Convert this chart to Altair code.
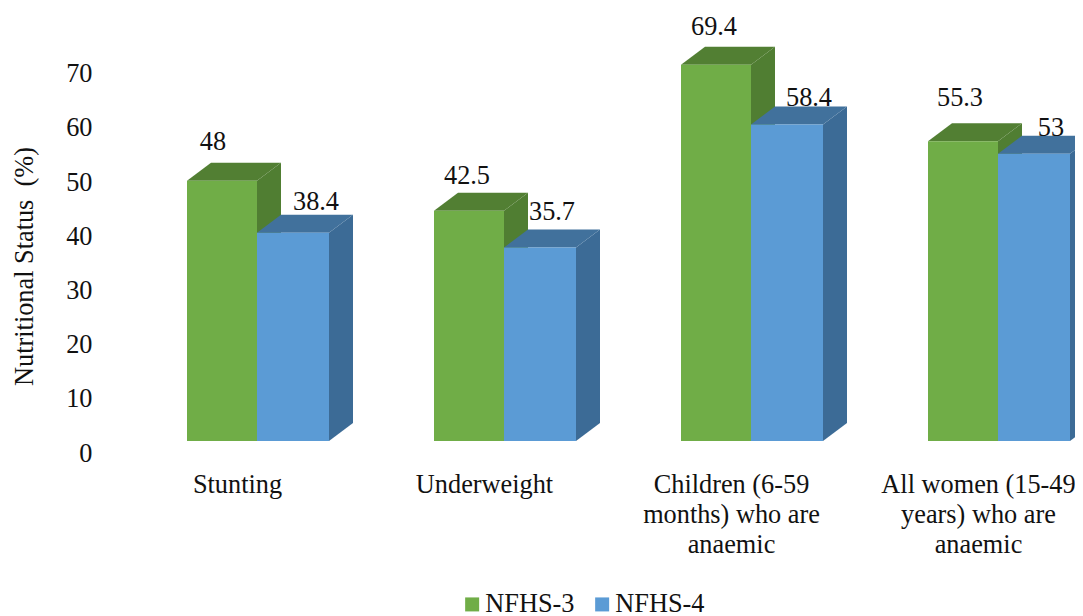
import json
import altair as alt
import pandas as pd

# ---- values
categories = ["Stunting", "Underweight", "Children (6-59 months) who are anaemic", "All women (15-49 years) who are anaemic"]
category_lines = [["Stunting"], ["Underweight"], ["Children (6-59", "months) who are", "anaemic"], ["All women (15-49", "years) who are", "anaemic"]]
nfhs3 = [48, 42.5, 69.4, 55.3]
nfhs4 = [38.4, 35.7, 58.4, 53]
series_names = ["NFHS-3", "NFHS-4"]
front_colors = ["#70AD47", "#5B9BD5"]
side_colors = ["#507E32", "#3C6B96"]
top_colors = ["#527F33", "#41719C"]
y_ticks = [0, 10, 20, 30, 40, 50, 60, 70]

# ---- layout of the pseudo-3D drawing
PX_X = 247.0      # pixels per category
PX_Y = 5.42       # pixels per percentage point
W3, W4 = 70 / PX_X, 72 / PX_X
DX, DY = 24 / PX_X, 18 / PX_Y
FONT = "Liberation Serif"
FS = 26.3
xdom = [(100 - 187) / PX_X, (1075 - 187) / PX_X]
ydom = [0, 433 / PX_Y]
xs = alt.Scale(domain=xdom, nice=False, zero=False)
ys = alt.Scale(domain=ydom, nice=False, zero=False)

label_off = {"NFHS-3": [(26, 39), (33, 35), (33, 38), (32, 43)],
             "NFHS-4": [(59, 31), (48, 36), (58, 26), (53, 26)]}

fronts, sides, tops, labels = [], [], [], []
for si, (name, vals) in enumerate(zip(series_names, [nfhs3, nfhs4])):
    for i, v in enumerate(vals):
        left = i + (0 if si == 0 else W3)
        right = left + (W3 if si == 0 else W4)
        bid = f"{si}-{i}"
        fronts.append(dict(series=name, si=si, left=left, right=right, v=v, base=0))
        sides.append(dict(si=si, bid=bid, x=right, top=v, bot=0))
        sides.append(dict(si=si, bid=bid, x=right + DX, top=v + DY, bot=DY))
        tops.append(dict(si=si, bid=bid, y=v, x0=left, x1=right))
        tops.append(dict(si=si, bid=bid, y=v + DY, x0=left + DX, x1=right + DX))
        ox, oy = label_off[name][i]
        labels.append(dict(si=si, x=left + ox / PX_X, y=v + oy / PX_Y, t=f"{v:g}"))

fronts, sides, tops, labels = map(pd.DataFrame, (fronts, sides, tops, labels))
color_scale = alt.Scale(domain=series_names, range=front_colors)

x_axis = alt.Axis(
    values=[0, 1, 2, 3], title=None, domain=False, ticks=False, grid=False,
    labelExpr=json.dumps(category_lines) + "[datum.value]",
    labelFont=FONT, labelFontSize=FS, labelColor="#111111", labelAngle=0,
    labelAlign="center", labelBaseline="top", labelPadding=30, labelLineHeight=30,
    labelOffset=50, labelOverlap=False, labelBound=False, labelFlush=False, labelLimit=400,
)
y_axis = alt.Axis(
    values=y_ticks, title="Nutritional Status\u00a0 (%)", domain=False, ticks=False, grid=False,
    labelFont=FONT, labelFontSize=FS, labelColor="#111111", labelPadding=8, labelOffset=12,
    titleFont=FONT, titleFontSize=FS, titleFontWeight="normal", titleColor="#111111",
    titleX=-76, titleY=258, titleAngle=270, titleAlign="center", titleBaseline="middle",
)

layers = []
for si in range(2):
    layers.append(alt.Chart(sides[sides.si == si]).mark_area(color=side_colors[si], clip=True).encode(
        x=alt.X("x:Q", scale=xs, axis=x_axis), y=alt.Y("top:Q", scale=ys, axis=y_axis),
        y2="bot:Q", detail="bid:N"))
    layers.append(alt.Chart(tops[tops.si == si]).mark_area(color=top_colors[si], orient="horizontal", clip=True).encode(
        y=alt.Y("y:Q", scale=ys), x=alt.X("x0:Q", scale=xs), x2="x1:Q", detail="bid:N"))
    layers.append(alt.Chart(fronts[fronts.si == si]).mark_rect(clip=True).encode(
        x=alt.X("left:Q", scale=xs), x2="right:Q", y=alt.Y("v:Q", scale=ys), y2="base:Q",
        color=alt.Color("series:N", scale=color_scale, legend=alt.Legend(
            title=None, orient="none", legendX=359, legendY=583, direction="horizontal", columns=2,
            symbolType="square", symbolSize=196, symbolStrokeWidth=0, labelFont=FONT, labelFontSize=FS,
            labelColor="#111111", labelOffset=0, columnPadding=14))))

layers.append(alt.Chart(labels).mark_text(font=FONT, fontSize=FS, color="#111111", align="center", baseline="middle").encode(
    x=alt.X("x:Q", scale=xs), y=alt.Y("y:Q", scale=ys), text="t:N"))

chart = alt.layer(*layers).properties(
    width=975, height=433, padding={"left": 92, "top": 0, "right": 0, "bottom": 175},
    autosize=alt.AutoSizeParams(type="none"), background="white",
).configure_view(stroke=None)

chart.save("out.html", embed_options={"renderer": "svg", "actions": False})
